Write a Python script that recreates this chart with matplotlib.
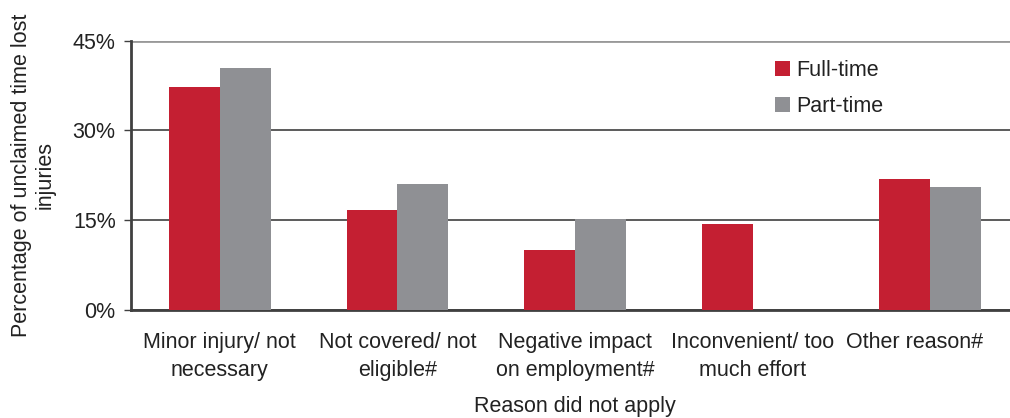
import numpy as np
import matplotlib.pyplot as plt
import matplotlib.transforms as mtransforms

plt.rcParams['font.family'] = ['Liberation Sans', 'DejaVu Sans']

# reasons for not applying and share of unclaimed time lost injuries (%)
reasons = ['Minor injury/ not\nnecessary', 'Not covered/ not\neligible#',
           'Negative impact\non employment#', 'Inconvenient/ too\nmuch effort',
           'Other reason#']
full_time = [37.2, 16.7, 10.0, 14.3, 21.9]
part_time = [40.4, 21.0, 15.2, 0.0, 20.5]
yticks = [0, 15, 30, 45]

red = '#C41F32'
grey = '#8F9094'
txt = '#222222'
fs = 15.5

fig = plt.figure(figsize=(10.1, 4.18), dpi=100)
ax = fig.add_axes([0.1297, 0.259, 0.8793, 0.6436])

x = np.arange(len(reasons))
w = 0.286
ax.bar(x - w / 2, full_time, w, color=red, label='Full-time', zorder=3)
ax.bar(x + w / 2, part_time, w, color=grey, label='Part-time', zorder=3)

ax.set_xlim(-0.5, len(reasons) - 0.5)
ax.set_ylim(0, 45)
ax.set_yticks(yticks)
ax.set_yticklabels([f'{t}%' for t in yticks])
ax.set_xticks(x)
ax.set_xticklabels(reasons)

ax.yaxis.grid(True, color='#404040', linewidth=1.2, zorder=0)
ax.set_axisbelow(True)
ax.get_ygridlines()[-1].set_color('#999999')
ax.get_ygridlines()[-1].set_linewidth(2)
for s in ['top', 'right']:
    ax.spines[s].set_visible(False)
ax.spines['left'].set_color('#404040')
ax.spines['left'].set_linewidth(2)
ax.spines['bottom'].set_color('#404040')
ax.spines['bottom'].set_linewidth(2)
ax.tick_params(axis='y', length=5, width=1, color='#404040', labelsize=fs,
               labelcolor=txt, pad=6)
ax.tick_params(axis='x', length=0, labelsize=fs, labelcolor=txt, pad=16)
for lab in ax.get_xticklabels():
    lab.set_linespacing(1.45)
# last label is nudged left so it stays inside the figure
last = ax.get_xticklabels()[-1]
last.set_transform(last.get_transform() +
                   mtransforms.ScaledTranslation(-0.16, 0, fig.dpi_scale_trans))

ax.set_xlabel('Reason did not apply', fontsize=fs, color=txt, labelpad=11)
ax.set_ylabel('Percentage of unclaimed time lost\ninjuries', fontsize=fs,
              color=txt, labelpad=12)

ax.legend(loc='upper left', bbox_to_anchor=(0.703, 1.0), frameon=False,
          fontsize=fs, handlelength=0.7, handleheight=0.7, handletextpad=0.3,
          labelspacing=0.7, labelcolor=txt)

fig.savefig('out.png', dpi=100)
